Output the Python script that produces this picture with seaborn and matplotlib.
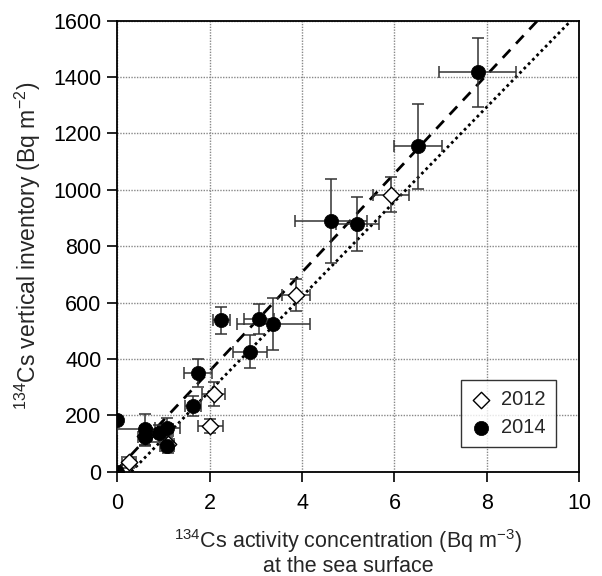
import numpy as np
import pandas as pd
import matplotlib
matplotlib.use("Agg")
import matplotlib.pyplot as plt
import seaborn as sns

# 2012 survey (open diamonds)
x_2012 = [0.26, 0.60, 1.10, 2.01, 2.09, 3.87, 5.93]
y_2012 = [33, 128, 98, 161, 276, 627, 983]
xerr_2012 = [0.15, 0.12, 0.12, 0.27, 0.25, 0.31, 0.39]
yerr_2012 = [20, 35, 30, 25, 42, 58, 62]

# 2014 survey (filled circles)
x_2014 = [0.0, 0.0, 0.60, 0.60, 0.91, 1.08, 1.08, 1.64, 1.75, 2.25,
          2.88, 3.07, 3.38, 4.63, 5.20, 6.51, 7.80]
y_2014 = [0, 183, 151, 124, 136, 154, 92, 234, 351, 538,
          426, 542, 524, 890, 879, 1154, 1417]
xerr_2014 = [0.05, 0.05, 0.60, 0.15, 0.15, 0.27, 0.15, 0.18, 0.30, 0.19,
             0.37, 0.33, 0.80, 0.78, 0.47, 0.53, 0.83]
yerr_2014 = [5, 10, 55, 30, 30, 35, 20, 35, 50, 48,
             58, 52, 91, 148, 97, 150, 122]

# regression lines (slope, intercept)
dashed_fit = (175.0, 8.0)
dotted_fit = (168.0, -50.0)

sns.set_theme(style="ticks")
plt.rcParams['font.family'] = ['Liberation Sans', 'DejaVu Sans']
plt.rcParams['mathtext.fontset'] = 'custom'
plt.rcParams['mathtext.rm'] = 'Liberation Sans'
plt.rcParams['mathtext.it'] = 'Liberation Sans:italic'

df12 = pd.DataFrame({'x': x_2012, 'y': y_2012, 'year': '2012'})
df14 = pd.DataFrame({'x': x_2014, 'y': y_2014, 'year': '2014'})

fig = plt.figure(figsize=(6.02, 5.76), dpi=100)
ax = fig.add_axes([0.195, 0.181, 0.767, 0.783])

# fit lines
xs = np.linspace(0, 10, 200)
line_df = pd.DataFrame({
    'x': np.concatenate([xs, xs]),
    'y': np.concatenate([dashed_fit[0] * xs + dashed_fit[1],
                         dotted_fit[0] * xs + dotted_fit[1]]),
    'fit': ['dashed'] * len(xs) + ['dotted'] * len(xs),
})
line_df = line_df[line_df['y'] >= 0]
sns.lineplot(data=line_df[line_df['fit'] == 'dashed'], x='x', y='y', ax=ax,
             color='black', lw=2, linestyle=(0, (4, 3)), zorder=2)
sns.lineplot(data=line_df[line_df['fit'] == 'dotted'], x='x', y='y', ax=ax,
             color='black', lw=2, linestyle=(0, (1, 1.2)), zorder=2)

# error bars
ax.errorbar(x_2012, y_2012, xerr=xerr_2012, yerr=yerr_2012, fmt='none',
            ecolor='#333333', elinewidth=1.1, capsize=4.3, capthick=1.1, zorder=3)
ax.errorbar(x_2014, y_2014, xerr=xerr_2014, yerr=yerr_2014, fmt='none',
            ecolor='#333333', elinewidth=1.1, capsize=4.3, capthick=1.1, zorder=3)

# markers
sns.scatterplot(data=df12, x='x', y='y', ax=ax, marker='D', s=70,
                facecolor='white', edgecolor='black', linewidth=1.0,
                label='2012', zorder=4)
sns.scatterplot(data=df14, x='x', y='y', ax=ax, marker='o', s=105,
                color='black', edgecolor='black', linewidth=0.5,
                label='2014', zorder=5)

ax.set_xlim(0, 10)
ax.set_ylim(0, 1600)
ax.set_xticks(np.arange(0, 11, 2))
ax.set_yticks(np.arange(0, 1601, 200))
ax.grid(True, color='#888888', linestyle=(0, (1, 1)), linewidth=1.0)
ax.set_axisbelow(True)
for sp in ax.spines.values():
    sp.set_visible(True)
    sp.set_color('black')
    sp.set_linewidth(1.3)
ax.tick_params(direction='out', length=7.5, width=1.2,
               labelsize=15.5, colors='black')
ax.tick_params(axis='x', pad=8)
ax.tick_params(axis='y', pad=4)

ax.set_xlabel('$^{134}$Cs activity concentration (Bq m$^{\\mathregular{-3}}$)\nat the sea surface',
              fontsize=15.5, labelpad=9, linespacing=1.1)
ax.set_ylabel('$^{134}$Cs vertical inventory (Bq m$^{\\mathregular{-2}}$)',
              fontsize=16.5, labelpad=7)

leg = ax.legend(loc='lower right', bbox_to_anchor=(0.95, 0.054), borderaxespad=0,
                fontsize=14.5, frameon=True, fancybox=False, edgecolor='black',
                handletextpad=0.5, borderpad=0.5, labelspacing=0.45,
                handlelength=1.0)
leg.get_frame().set_linewidth(1.0)

fig.savefig('out.png', dpi=100)
